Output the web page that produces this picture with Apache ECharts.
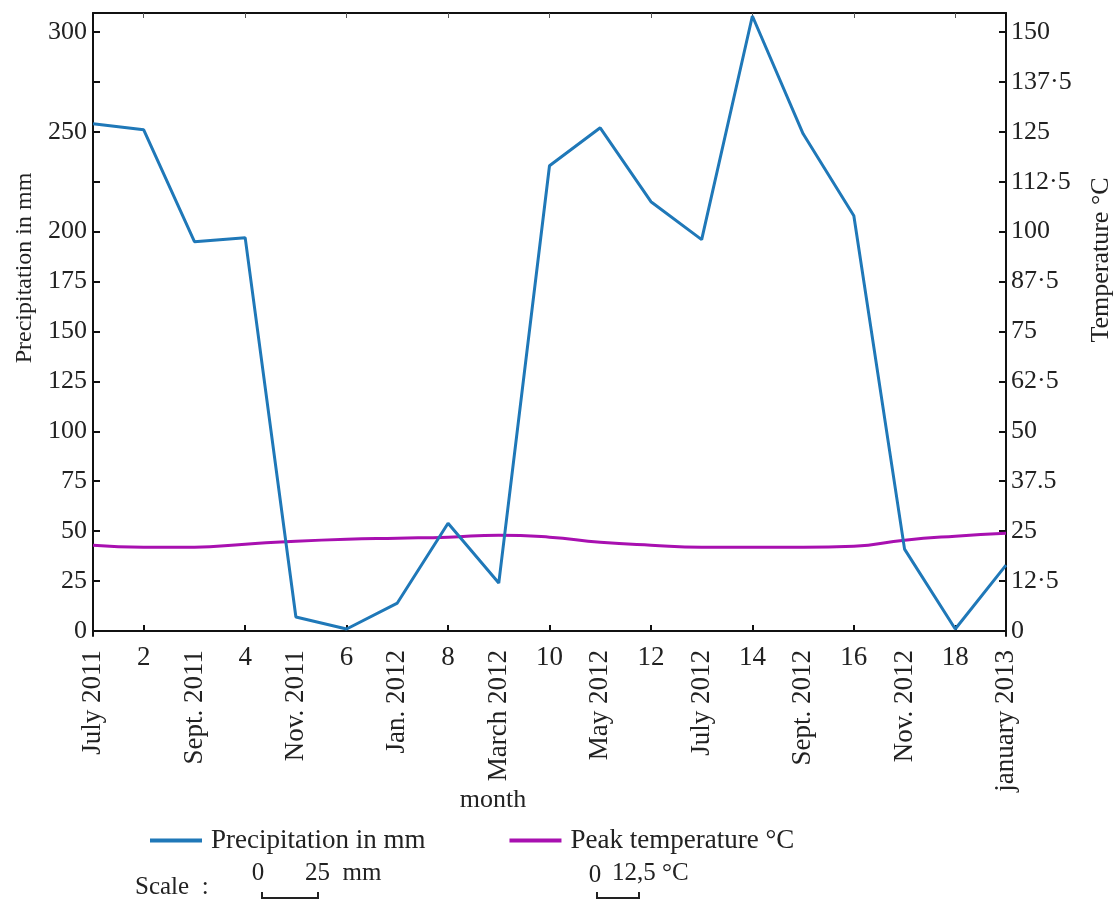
<!DOCTYPE html>
<html>
<head>
<meta charset="utf-8">
<script src="https://cdn.jsdelivr.net/npm/echarts@6/dist/echarts.min.js"></script>
<style>
html,body{margin:0;padding:0;background:#fff;}
#chart{width:1120px;height:901px;}
</style>
</head>
<body>
<div id="chart"></div>
<script>
// ---- data ----
var months = ["July 2011","2","Sept. 2011","4","Nov. 2011","6","Jan. 2012","8","March 2012","10",
              "May 2012","12","July 2012","14","Sept. 2012","16","Nov. 2012","18","january 2013"];
var precipitation = [254,251,195,197,7,1,14,54,24,233,252,215,196,308,249,208,41,1,33];
var peakTemperature = [21.5,21,21,21.75,22.5,23,23.25,23.5,24,23.5,22.25,21.5,21,21,21,21.25,22.75,23.75,24.5];
var leftTickValues = [0,25,50,75,100,125,150,175,200,225,250,275,300];
var leftTickLabels = ["0","25","50","75","100","125","150","175","200","","250","","300"];
var rightTickValues = [0,12.5,25,37.5,50,62.5,75,87.5,100,112.5,125,137.5,150];
var rightTickLabels = ["0","12·5","25","37.5","50","62·5","75","87·5","100","112·5","125","137·5","150"];

var FONT = "'Liberation Serif','Times New Roman',serif";
var TXT = '#222';
var BLUE = '#1f78b8';
var PURPLE = '#a810b0';

var chart = echarts.init(document.getElementById('chart'));
var axisLineStyle = {color:'#111', width:2};

chart.setOption({
  animation:false,
  backgroundColor:'#fff',
  grid:{left:93, right:114, top:13, bottom:265, containLabel:false, show:false},
  legend:{
    left:145, top:822, itemWidth:52, itemHeight:4, itemGap:84, icon:'rect',
    textStyle:{fontFamily:FONT, fontSize:27, color:TXT, padding:[0,0,0,4]},
    data:['Precipitation in mm','Peak temperature °C']
  },
  xAxis:[
    {type:'category', data:months, boundaryGap:false, position:'bottom',
     axisLine:{show:true, lineStyle:axisLineStyle},
     axisTick:{show:true, inside:true, length:6, interval:function(i){return i%2===1;}, lineStyle:{color:'#111',width:2}},
     axisLabel:{rotate:90, margin:14, fontFamily:FONT, fontSize:27, color:TXT,
                interval:function(i){return i%2===0;}},
     splitLine:{show:false}},
    {type:'category', data:months, boundaryGap:false, position:'bottom',
     axisLine:{show:false}, axisTick:{show:false},
     axisLabel:{margin:8, fontFamily:FONT, fontSize:27, color:TXT,
                interval:function(i){return i%2===1;}},
     splitLine:{show:false}},
    {type:'category', data:months, boundaryGap:false, position:'top',
     axisLine:{show:true, lineStyle:axisLineStyle},
     axisTick:{show:true, inside:true, length:5, interval:function(i){return i%2===1;}, lineStyle:{color:'#555',width:1}},
     axisLabel:{show:false}, splitLine:{show:false}}
  ],
  yAxis:[
    {type:'value', position:'left', min:-2.5, max:309.5,
     axisLine:{show:true, lineStyle:axisLineStyle},
     axisTick:{show:true, inside:true, length:7, customValues:leftTickValues, lineStyle:{color:'#111',width:2}},
     axisLabel:{margin:6, fontFamily:FONT, fontSize:26, color:TXT, customValues:leftTickValues,
                formatter:function(v){var i=leftTickValues.indexOf(v);return i>=0?leftTickLabels[i]:'';}},
     splitLine:{show:false}},
    {type:'value', position:'right', min:-1.25, max:154.75,
     axisLine:{show:true, lineStyle:axisLineStyle},
     axisTick:{show:true, inside:true, length:7, customValues:rightTickValues, lineStyle:{color:'#111',width:2}},
     axisLabel:{margin:5, fontFamily:FONT, fontSize:26, color:TXT, customValues:rightTickValues,
                formatter:function(v){var i=rightTickValues.indexOf(v);return i>=0?rightTickLabels[i]:'';}},
     splitLine:{show:false}}
  ],
  series:[
    {name:'Precipitation in mm', type:'line', xAxisIndex:0, yAxisIndex:0, data:precipitation,
     symbol:'none', lineStyle:{color:BLUE, width:3}, itemStyle:{color:BLUE}, z:3},
    {name:'Peak temperature °C', type:'line', xAxisIndex:0, yAxisIndex:1, data:peakTemperature,
     symbol:'none', smooth:true, lineStyle:{color:PURPLE, width:3}, itemStyle:{color:PURPLE}, z:2}
  ],
  graphic:[
    {type:'text', x:25, y:268, rotation:Math.PI/2,
     style:{text:'Precipitation in mm', font:'24px '+FONT, fill:TXT, textAlign:'center', textVerticalAlign:'middle'}},
    {type:'text', x:1101, y:260, rotation:Math.PI/2,
     style:{text:'Temperature °C', font:'26px '+FONT, fill:TXT, textAlign:'center', textVerticalAlign:'middle'}},
    {type:'text', x:493, y:800,
     style:{text:'month', font:'26px '+FONT, fill:TXT, textAlign:'center', textVerticalAlign:'middle'}},
    {type:'text', x:135, y:887,
     style:{text:'Scale  :', font:'25px '+FONT, fill:TXT, textAlign:'left', textVerticalAlign:'middle'}},
    {type:'text', x:258, y:873,
     style:{text:'0', font:'25px '+FONT, fill:TXT, textAlign:'center', textVerticalAlign:'middle'}},
    {type:'text', x:305, y:873,
     style:{text:'25  mm', font:'25px '+FONT, fill:TXT, textAlign:'left', textVerticalAlign:'middle'}},
    {type:'polyline', shape:{points:[[262,892],[262,898],[318,898],[318,892]]},
     style:{stroke:'#222', lineWidth:2, fill:null}},
    {type:'text', x:595, y:875,
     style:{text:'0', font:'25px '+FONT, fill:TXT, textAlign:'center', textVerticalAlign:'middle'}},
    {type:'text', x:612, y:873,
     style:{text:'12,5 °C', font:'25px '+FONT, fill:TXT, textAlign:'left', textVerticalAlign:'middle'}},
    {type:'polyline', shape:{points:[[597,892],[597,898],[639,898],[639,892]]},
     style:{stroke:'#222', lineWidth:2, fill:null}}
  ]
});
</script>
</body>
</html>
